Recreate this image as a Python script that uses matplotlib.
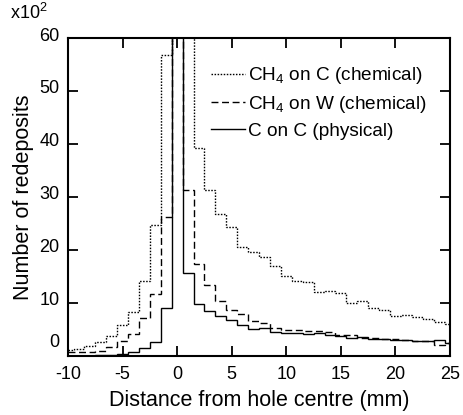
import numpy as np
import matplotlib
matplotlib.use("Agg")
import matplotlib.pyplot as plt
import matplotlib.transforms as mtransforms

plt.rcParams['font.family'] = ['Liberation Sans', 'DejaVu Sans']
plt.rcParams['mathtext.fontset'] = 'custom'
plt.rcParams['mathtext.rm'] = 'Liberation Sans'
plt.rcParams['mathtext.it'] = 'Liberation Sans'
plt.rcParams['axes.unicode_minus'] = False

# Bin centres (mm); each bin is 1 mm wide
bin_centres = list(range(-10, 26))

# Number of redeposits (x10^2); values above 60 run off the top of the chart
ch4_on_c = [1.1, 1.3, 1.9, 2.7, 3.8, 5.8, 8.4, 14.2, 24.8, 56.8,
            80, 80, 39.3, 31.4, 26.8, 24.3, 20.5, 19.7, 18.7, 17.0,
            15.2, 14.2, 13.9, 12.1, 12.3, 11.9, 10.1, 10.4, 9.0, 8.7,
            7.5, 7.7, 7.3, 7.0, 6.4, 6.0]
ch4_on_w = [0.8, 0.8, 0.8, 1.0, 1.7, 2.9, 4.2, 7.1, 11.7, 26.3,
            80, 31.4, 17.4, 13.4, 10.4, 8.7, 7.9, 6.7, 6.2, 5.3,
            5.0, 5.0, 4.8, 4.7, 4.5, 4.0, 3.9, 3.5, 3.5, 3.3,
            3.3, 3.0, 2.9, 2.8, 2.0, 2.4]
c_on_c = [0.1, 0.1, 0.1, 0.2, 0.2, 0.3, 0.8, 1.45, 2.7, 9.0,
          80, 15.7, 9.9, 8.5, 7.5, 6.8, 5.8, 5.2, 5.3, 4.6,
          4.4, 4.3, 4.2, 4.3, 4.0, 3.8, 3.5, 3.6, 3.3, 3.3,
          3.0, 3.0, 2.9, 2.8, 3.0, 2.4]

labels = ['CH$_4$ on C (chemical)', 'CH$_4$ on W (chemical)', 'C on C (physical)']
x_ticks = [-10, -5, 0, 5, 10, 15, 20, 25]
y_ticks = [0, 10, 20, 30, 40, 50, 60]

c = np.array(bin_centres, dtype=float)
edges = np.concatenate([[c[0]], (c[:-1] + c[1:]) / 2, [c[-1]]])

fig = plt.figure(figsize=(4.63, 4.15), dpi=100)
ax = fig.add_axes([0.147, 0.142, 0.825, 0.766])

ax.stairs(ch4_on_c, edges, baseline=None, color='black', lw=1.0,
          linestyle=(0, (1.1, 1.1)), label=labels[0])
ax.stairs(ch4_on_w, edges, baseline=None, color='black', lw=1.0,
          linestyle=(0, (5, 2.6)), label=labels[1])
ax.stairs(c_on_c, edges, baseline=None, color='black', lw=1.0,
          linestyle='-', label=labels[2])

ax.set_xlim(-10, 25)
ax.set_ylim(0, 60)
ax.set_xticks(x_ticks)
ax.set_yticks(y_ticks)
ax.tick_params(direction='in', length=7, width=1.3, top=True, right=True,
               labelsize=13)
ax.tick_params(axis='x', pad=7)
ax.tick_params(axis='y', pad=6)
for s in ax.spines.values():
    s.set_linewidth(1.5)

# y tick labels sit slightly above their ticks; the 0 label sits higher
for val, lab in zip(y_ticks, ax.get_yticklabels()):
    dy = 11 if val == 0 else 3
    lab.set_transform(lab.get_transform() +
                      mtransforms.ScaledTranslation(0, dy / 72, fig.dpi_scale_trans))

ax.set_xlabel('Distance from hole centre (mm)', fontsize=15.5, labelpad=5)
ax.set_ylabel('Number of redeposits', fontsize=15.5, labelpad=4)
fig.text(0.022, 0.945, 'x10$^2$', fontsize=13, ha='left', va='bottom')

leg = ax.legend(loc='upper left', bbox_to_anchor=(0.375, 0.915), frameon=False,
                fontsize=13.7, handlelength=1.75, handletextpad=0.2,
                labelspacing=0.4, borderaxespad=0.0, borderpad=0.0)

fig.savefig('out.png', dpi=100)
